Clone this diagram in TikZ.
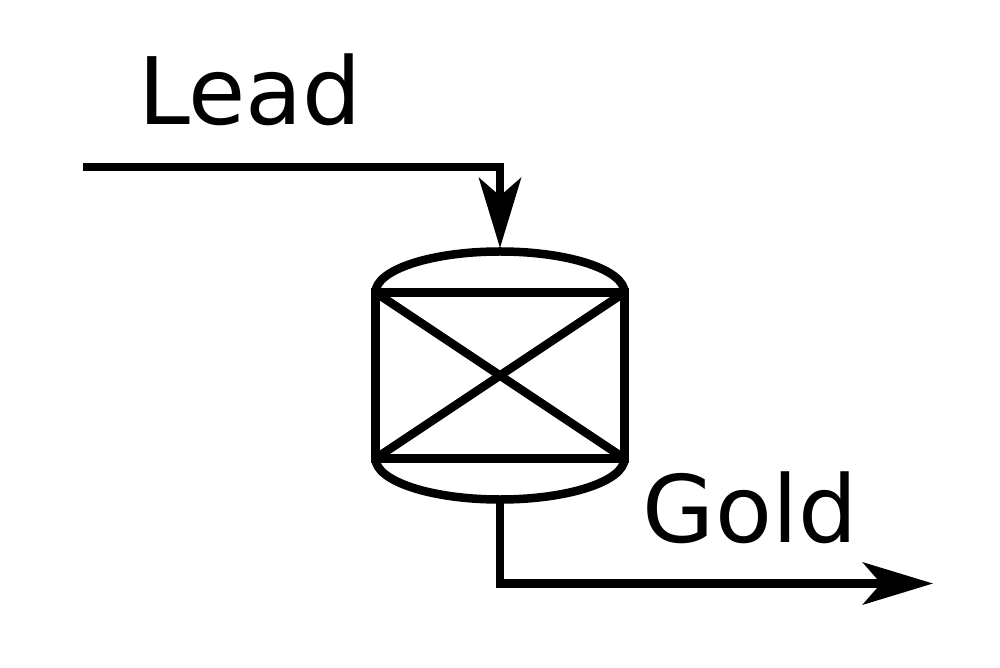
\documentclass[tikz,border=0pt]{standalone}
\usepackage{fontspec}
\setmainfont{DejaVu Sans}
\usetikzlibrary{arrows.meta, positioning}

\tikzset{
  pipe/.style={line width=0.085cm, -{Stealth[length=0.70cm, width=0.42cm, inset=0.18cm]}},
  vesselline/.style={line width=0.085cm},
  streamlabel/.style={font=\fontsize{26.5pt}{30pt}\selectfont, anchor=base, inner sep=0pt}
}

\begin{document}
\begin{tikzpicture}
        \useasboundingbox (0,0) rectangle (10,6.67);
        \node (vessel) [draw, vesselline, minimum width=2.49cm, minimum height=1.66cm, inner sep=0pt, outer sep=0pt] at (5,2.915) {};
        \draw[vesselline] (vessel.north west) arc[start angle=180, end angle=0, x radius=1.245cm, y radius=0.41cm];
        \draw[vesselline] (vessel.south west) arc[start angle=180, end angle=360, x radius=1.245cm, y radius=0.41cm];
        \draw[vesselline] (vessel.north west) -- (vessel.south east);
        \draw[vesselline] (vessel.south west) -- (vessel.north east);
        \coordinate (leadin) at (0.83,5);
        \coordinate[above=0.445cm of vessel.north] (domein); % tip touches the dome
        \coordinate[below=0.41cm of vessel.south] (domeout);
        \coordinate (goldout) at (9.33,0.835);
        \node (lead) [streamlabel] at (2.5,5.42) {Lead};
        \node (gold) [streamlabel] at (7.5,1.25) {Gold};
        \draw[pipe] (leadin) -| (domein);
        \draw[pipe] (domeout) |- (goldout);
    \end{tikzpicture}
\end{document}
